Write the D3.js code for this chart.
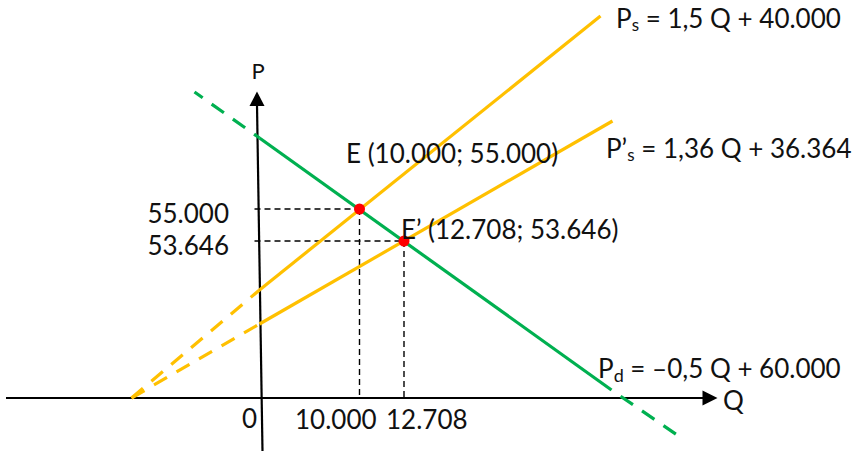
<!DOCTYPE html>
<html>
<head>
<meta charset="utf-8">
<script src="https://cdn.jsdelivr.net/npm/d3@7"></script>
<style>
  html, body { margin: 0; padding: 0; background: #fff; }
  svg { display: block; font-family: Lato, "Open Sans", sans-serif; }
  text { fill: #111; }
</style>
</head>
<body>
<div id="chart"></div>
<script>
// Schematic diagram (not to scale). Coordinates are in diagram units,
// origin at the crossing of the axes, Q to the right and P upward.
const equilibria = [
  { name: "E",  label: "E (10.000; 55.000)",  q: "10.000", p: "55.000", x: 100,   y: 189 },
  { name: "E'", label: "E\u2019 (12.708; 53.646)", q: "12.708", p: "53.646", x: 144.5, y: 157 }
];
// demand: dashed lead-in, solid part, dashed tail
const demandDashIn  = [[-65, 306], [0, 260]];
const demandSolid   = [[0, 260], [352, 8]];
const demandDashOut = [[352, 8], [425, -42]];
// original supply
const supplyDash  = [[-128, 0], [0, 108]];
const supplySolid = [[0, 108], [341, 382]];
// new supply
const supply2Dash  = [[-128, 0], [0, 74]];
const supply2Solid = [[0, 74], [353, 277]];

const W = 856, H = 451;
const YELLOW = "#FFC000", GREEN = "#00B050";

const x = d3.scaleLinear().domain([0, 100]).range([259.5, 359.5]);
const y = d3.scaleLinear().domain([0, 100]).range([398, 298]);

const svg = d3.select("#chart").append("svg")
  .attr("width", W).attr("height", H).attr("viewBox", `0 0 ${W} ${H}`);

const line = d3.line().x(d => x(d[0])).y(d => y(d[1]));

// guide lines from the equilibria to the axes
const guides = svg.append("g")
  .attr("stroke", "#000").attr("stroke-width", 1.4).attr("stroke-dasharray", "6,4").attr("fill", "none");
equilibria.forEach(e => {
  guides.append("path").attr("d", line([[-5, e.y], [e.x, e.y]]));
  guides.append("path").attr("d", line([[e.x, e.y], [e.x, 0]]));
});

// axes
const axes = svg.append("g");
axes.append("path").attr("d", line([[-253.5, 0], [444, 0]]))
  .attr("stroke", "#000").attr("stroke-width", 2.2);
axes.append("path")
  .attr("d", `M${x(443)},${y(7.5)} L${x(458)},${y(0)} L${x(443)},${y(-7.5)} Z`)
  .attr("fill", "#000");
axes.append("path").attr("d", line([[3, -53], [-2.5, 293]]))
  .attr("stroke", "#000").attr("stroke-width", 2.2);
axes.append("path")
  .attr("d", `M${x(-10)},${y(292)} L${x(-2.5)},${y(306.5)} L${x(5)},${y(292)} Z`)
  .attr("fill", "#000");

// curves
const curves = svg.append("g").attr("fill", "none").attr("stroke-width", 3.2);
curves.append("path").attr("d", line(supplyDash)).attr("stroke", YELLOW).attr("stroke-dasharray", "15,11");
curves.append("path").attr("d", line(supply2Dash)).attr("stroke", YELLOW).attr("stroke-dasharray", "15,11");
curves.append("path").attr("d", line(supplySolid)).attr("stroke", YELLOW);
curves.append("path").attr("d", line(supply2Solid)).attr("stroke", YELLOW);
curves.append("path").attr("d", line(demandDashIn)).attr("stroke", GREEN)
  .attr("stroke-dasharray", "15,11").attr("stroke-dashoffset", 5);
curves.append("path").attr("d", line(demandSolid)).attr("stroke", GREEN);
curves.append("path").attr("d", line(demandDashOut)).attr("stroke", GREEN)
  .attr("stroke-dasharray", "15,11").attr("stroke-dashoffset", 15);

// equilibrium points
svg.append("g").selectAll("circle").data(equilibria).join("circle")
  .attr("cx", d => x(d.x)).attr("cy", d => y(d.y)).attr("r", 5.5)
  .attr("fill", "#FF0000");

// labels
const fs = 26;
const txt = (tx, ty, s, anchor) => svg.append("text")
  .attr("x", tx).attr("y", ty).attr("font-size", fs)
  .attr("text-anchor", anchor || "start").text(s);

function eq(tx, ty, main, sub, rest, subSize, subDy) {
  const t = svg.append("text").attr("x", tx).attr("y", ty).attr("font-size", fs);
  t.append("tspan").text(main);
  t.append("tspan").attr("font-size", subSize).attr("dy", subDy).text(sub);
  t.append("tspan").attr("dy", -subDy).text(rest);
}
eq(616, 28, "P", "s", " = 1,5 Q + 40.000", 17, 3);
eq(606, 158, "P\u2019", "s", " = 1,36 Q + 36.364", 17, 3);
eq(598, 378, "P", "d", " = \u20130,5 Q + 60.000", 18, 4);

txt(346, 162.5, equilibria[0].label);
txt(401, 238.5, equilibria[1].label);

txt(229, 223, equilibria[0].p, "end");
txt(229, 255, equilibria[1].p, "end");
txt(249.5, 428, "0", "middle");
txt(295, 428.5, equilibria[0].q);
txt(386, 428.5, equilibria[1].q);

txt(723, 410, "Q");
svg.append("text").attr("x", 258).attr("y", 79).attr("font-size", 22)
  .attr("text-anchor", "middle").text("P");
</script>
</body>
</html>
